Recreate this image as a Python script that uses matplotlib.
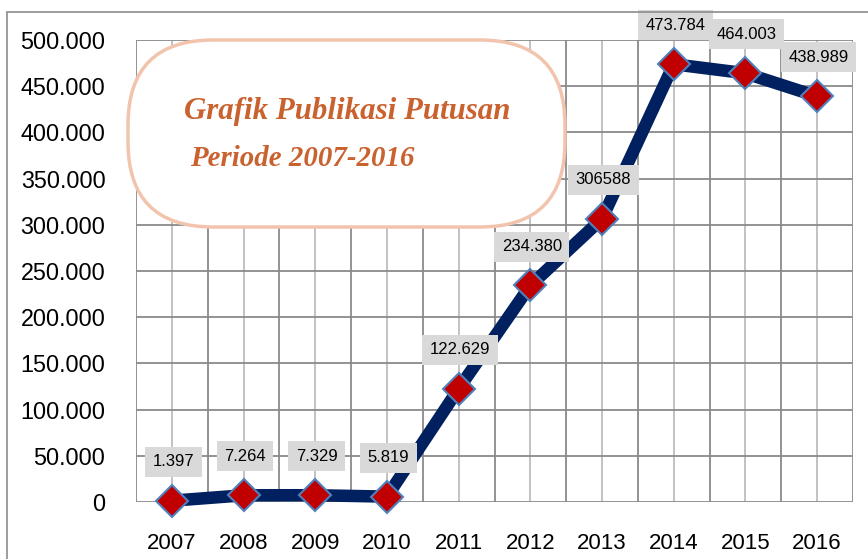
import numpy as np
import matplotlib
matplotlib.use('Agg')
import matplotlib.pyplot as plt
from matplotlib.patches import FancyBboxPatch, Rectangle

plt.rcParams['font.family'] = ['Liberation Sans', 'DejaVu Sans']

years = ['2007', '2008', '2009', '2010', '2011', '2012', '2013', '2014', '2015', '2016']
values = [1397, 7264, 7329, 5819, 122629, 234380, 306588, 473784, 464003, 438989]
value_labels = ['1.397', '7.264', '7.329', '5.819', '122.629', '234.380', '306588',
                '473.784', '464.003', '438.989']
y_ticks = [0, 50000, 100000, 150000, 200000, 250000, 300000, 350000, 400000, 450000, 500000]
y_tick_labels = ['0', '50.000', '100.000', '150.000', '200.000', '250.000', '300.000',
                 '350.000', '400.000', '450.000', '500.000']

W, H = 868, 559
fig = plt.figure(figsize=(W / 100, H / 100), dpi=100)

# outer chart border (cropped at right/bottom)
fig.patches.append(Rectangle((7 / W, -0.1), 1.2, (H - 12) / H + 0.1, transform=fig.transFigure,
                             fill=False, edgecolor='#8c8c8c', linewidth=1.2, zorder=0))

ax = fig.add_axes([136 / W, (H - 502) / H, 717 / W, 462 / H])
x = np.arange(len(years))

ax.set_xlim(-0.5, len(years) - 0.5)
ax.set_ylim(0, 500000)

# grid: darker lines on category boundaries and value ticks, lighter on category centres
for b in np.arange(-0.5, len(years), 1.0):
    ax.axvline(b, color='#8a8a8a', linewidth=1.3, zorder=0)
for c in x:
    ax.axvline(c, color='#bdbdbd', linewidth=1.3, zorder=0)
for t in y_ticks:
    ax.axhline(t, color='#8a8a8a', linewidth=1.3, zorder=0)

for s in ax.spines.values():
    s.set_visible(False)

ax.set_xticks(x)
ax.set_xticklabels(years, fontsize=16)
ax.set_yticks(y_ticks)
ax.set_yticklabels(y_tick_labels, fontsize=16.8)
ax.tick_params(length=0)
ax.tick_params(axis='x', pad=22)
ax.tick_params(axis='y', pad=22)

ax.plot(x, values, color='#002060', linewidth=9, solid_joinstyle='miter', zorder=3, clip_on=False)
ax.plot(x, values, linestyle='none', marker='D', markersize=16, markerfacecolor='#c00000',
        markeredgecolor='#4f81bd', markeredgewidth=1.5, zorder=4, clip_on=False)

for xi, v, lab in zip(x, values, value_labels):
    ax.annotate(lab, (xi, v), xytext=(1, 28), textcoords='offset points',
                ha='center', va='center', fontsize=12, color='#000000', zorder=5,
                annotation_clip=False,
                bbox=dict(boxstyle='square,pad=0.45', facecolor='#d9d9d9', edgecolor='none'))

# title box
box = FancyBboxPatch((1.28, (H - 227) / 100), 4.37, 1.87,
                     boxstyle='round,pad=0,rounding_size=0.85',
                     transform=fig.dpi_scale_trans, facecolor='white',
                     edgecolor='#f2c4ad', linewidth=2.5, zorder=2)
fig.patches.append(box)
fig.text(184 / W, 1 - 112 / H, 'Grafik Publikasi Putusan', fontsize=22.2, fontweight='bold',
         fontstyle='italic', family=['Liberation Serif', 'DejaVu Serif'], color='#c9622f',
         ha='left', va='center', zorder=3)
fig.text(190 / W, 1 - 159 / H, 'Periode 2007-2016', fontsize=20.8, fontweight='bold',
         fontstyle='italic', family=['Liberation Serif', 'DejaVu Serif'], color='#c9622f',
         ha='left', va='center', zorder=3)

fig.savefig('out.png', dpi=100)
